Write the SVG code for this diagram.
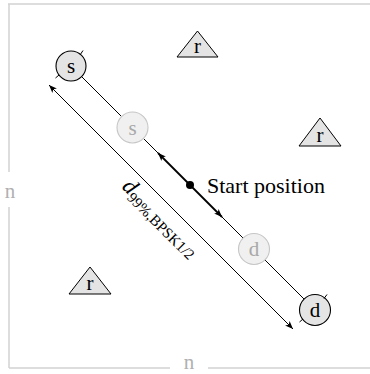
<svg xmlns="http://www.w3.org/2000/svg" width="370" height="374" viewBox="0 0 370 374">
  <style>
    .frame { stroke: #d2d2d2; stroke-width: 1.5; fill: none; }
    .axis-label { font-family: "Liberation Serif", "Times New Roman", serif; font-size: 21px; fill: #b0b0b0; text-anchor: middle; }
    .lbl { font-family: "Liberation Serif", "Times New Roman", serif; font-size: 21px; fill: #000; text-anchor: middle; }
    .lbl-ghost { fill: #a8a8a8; }
    .node-dark { fill: #e4e4e4; stroke: #000; stroke-width: 1.1; }
    .node-ghost { fill: #f0f0f0; stroke: #c6c6c6; stroke-width: 1.1; }
    .relay { fill: #e4e4e4; stroke: #000; stroke-width: 1; stroke-linejoin: miter; }
    .tick { stroke: #000; stroke-width: 1; }
    .path-line { stroke: #000; stroke-width: 1; fill: none; }
    .move { stroke: #000; stroke-width: 1.8; fill: none; marker-end: url(#head); }
    .measure { stroke: #000; stroke-width: 1; fill: none; marker-start: url(#head-s); marker-end: url(#head); }
    .start-text { font-family: "Liberation Serif", "Times New Roman", serif; font-size: 22px; fill: #000; }
    .dist { font-family: "Liberation Serif", "Times New Roman", serif; fill: #000; }
  </style>
  <defs>
    <marker id="head" viewBox="-10 -5 12 10" refX="0" refY="0" markerWidth="12" markerHeight="10" markerUnits="userSpaceOnUse" orient="auto">
      <path d="M0,0 L-8,-3.2 L-6,0 L-8,3.2 Z" fill="#000"/>
    </marker>
    <marker id="head-s" viewBox="-2 -5 12 10" refX="0" refY="0" markerWidth="12" markerHeight="10" markerUnits="userSpaceOnUse" orient="auto">
      <path d="M0,0 L8,-3.2 L6,0 L8,3.2 Z" fill="#000"/>
    </marker>
  </defs>

  <!-- frame with axis labels -->
  <g id="frame">
    <line class="frame" x1="8" y1="4" x2="370" y2="4"/>
    <line class="frame" x1="9" y1="4" x2="9" y2="172"/>
    <line class="frame" x1="9" y1="207" x2="9" y2="368"/>
    <line class="frame" x1="9" y1="368" x2="170" y2="368"/>
    <line class="frame" x1="208" y1="368" x2="370" y2="368"/>
    <text class="axis-label" x="10" y="198">n</text>
    <text class="axis-label" x="189" y="369" font-size="20">n</text>
  </g>

  <!-- connectors -->
  <g id="connectors">
    <line class="path-line" x1="71" y1="66" x2="315" y2="310"/>
    <line class="move" x1="190" y1="185" x2="158" y2="153"/>
    <line class="move" x1="190" y1="185" x2="222" y2="217"/>
    <line class="measure" x1="49" y1="85" x2="293" y2="329"/>
  </g>

  <!-- relays -->
  <g id="relay-top">
    <polygon class="relay" points="197.5,31 177,57 218,57"/>
    <text class="lbl" x="197.5" y="53">r</text>
  </g>
  <g id="relay-right">
    <polygon class="relay" points="320,118 299,146 341,146"/>
    <text class="lbl" x="320" y="142">r</text>
  </g>
  <g id="relay-left">
    <polygon class="relay" points="90,267 69,294 111,294"/>
    <text class="lbl" x="90" y="290">r</text>
  </g>

  <!-- ghost positions -->
  <g id="source-ghost">
    <circle class="node-ghost" cx="132.5" cy="127.5" r="15.5"/>
    <text class="lbl lbl-ghost" x="132.5" y="134.5">s</text>
  </g>
  <g id="dest-ghost">
    <circle class="node-ghost" cx="254" cy="249" r="15.5"/>
    <text class="lbl lbl-ghost" x="254" y="256">d</text>
  </g>

  <!-- source -->
  <g id="source">
    <circle class="node-dark" cx="71" cy="66" r="15"/>
    <line class="tick" x1="80" y1="55" x2="83" y2="50.5"/>
    <line class="tick" x1="59" y1="75" x2="55.5" y2="78"/>
    <text class="lbl" x="71" y="73">s</text>
  </g>

  <!-- destination -->
  <g id="destination">
    <circle class="node-dark" cx="315" cy="310" r="15.5"/>
    <line class="tick" x1="324" y1="298.5" x2="327" y2="294.5"/>
    <line class="tick" x1="303" y1="319" x2="299.5" y2="322"/>
    <text class="lbl" x="315" y="317">d</text>
  </g>

  <!-- start point -->
  <g id="start">
    <circle cx="190" cy="185" r="4" fill="#000"/>
    <text class="start-text" x="207" y="193">Start position</text>
  </g>

  <!-- distance label -->
  <g id="distance-label">
    <text class="dist" transform="translate(121,187.5) rotate(45)"><tspan font-size="23" font-style="italic">d</tspan><tspan font-size="15" dy="4">99%,BPSK1/2</tspan></text>
  </g>
</svg>
